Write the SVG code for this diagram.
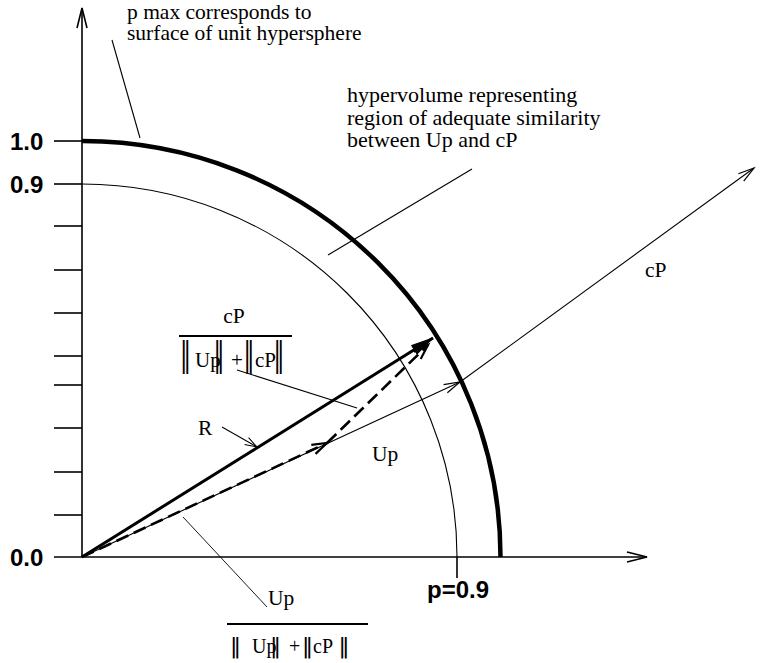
<svg xmlns="http://www.w3.org/2000/svg" width="760" height="663" viewBox="0 0 760 663">
<style>
  .t { font-family: 'Liberation Serif', 'Times New Roman', serif; font-size: 21.5px; fill: #000; }
  .b { font-family: 'Liberation Sans', Arial, sans-serif; font-size: 24px; font-weight: bold; fill: #000; }
  .bar { font-family: 'DejaVu Sans', 'Liberation Serif', serif; font-size: 22px; fill: #000; text-anchor: middle; }
  .ax { stroke: #000; stroke-width: 1.6; fill: none; }
  .thin { stroke: #000; stroke-width: 1.1; fill: none; }
  .thick { stroke: #000; stroke-width: 4.5; fill: none; }
  .dash { stroke: #000; stroke-width: 2.6; fill: none; stroke-dasharray: 13 6; }
</style>
<defs>
  <marker id="openL" markerUnits="userSpaceOnUse" markerWidth="24" markerHeight="14" viewBox="-21 -7 24 14" refX="0" refY="0" orient="auto" overflow="visible">
    <path d="M-20,-5 L0,0 L-20,5" fill="none" stroke="#000" stroke-width="1.6"/>
  </marker>
  <marker id="openM" markerUnits="userSpaceOnUse" markerWidth="20" markerHeight="12" viewBox="-18 -6 20 12" refX="0" refY="0" orient="auto" overflow="visible">
    <path d="M-16,-4.5 L0,0 L-16,4.5" fill="none" stroke="#000" stroke-width="1.2"/>
  </marker>
  <marker id="openS" markerUnits="userSpaceOnUse" markerWidth="16" markerHeight="10" viewBox="-14 -5 16 10" refX="0" refY="0" orient="auto" overflow="visible">
    <path d="M-12,-4 L0,0 L-12,4" fill="none" stroke="#000" stroke-width="1"/>
  </marker>
  <marker id="openD" markerUnits="userSpaceOnUse" markerWidth="20" markerHeight="12" viewBox="-18 -6 20 12" refX="0" refY="0" orient="auto" overflow="visible">
    <path d="M-15,-5 L0,0 L-15,5" fill="none" stroke="#000" stroke-width="2.2"/>
  </marker>
  <marker id="fill" markerUnits="userSpaceOnUse" markerWidth="26" markerHeight="14" viewBox="-24 -7 26 14" refX="0" refY="0" orient="auto" overflow="visible">
    <path d="M-22,-5 L0,0 L-22,5 Z" fill="#000" stroke="#000" stroke-width="1"/>
  </marker>
</defs>
<rect width="760" height="663" fill="#fff"/>

<g id="axes">
  <line class="ax" x1="82" y1="557" x2="82" y2="8" marker-end="url(#openL)"/>
  <line class="ax" x1="54" y1="557" x2="647" y2="557" marker-end="url(#openL)"/>
  <g class="ax">
    <line x1="54" y1="141" x2="82" y2="141"/>
    <line x1="54" y1="184" x2="82" y2="184"/>
    <line x1="54" y1="226" x2="82" y2="226"/>
    <line x1="54" y1="270" x2="82" y2="270"/>
    <line x1="54" y1="313" x2="82" y2="313"/>
    <line x1="54" y1="356" x2="82" y2="356"/>
    <line x1="54" y1="385" x2="82" y2="385"/>
    <line x1="54" y1="428" x2="82" y2="428"/>
    <line x1="54" y1="472" x2="82" y2="472"/>
    <line x1="54" y1="515" x2="82" y2="515"/>
    <line x1="457" y1="557" x2="457" y2="578"/>
  </g>
  <text class="b" x="10" y="149.5">1.0</text>
  <text class="b" x="10" y="192.5">0.9</text>
  <text class="b" x="10" y="566">0.0</text>
  <text class="b" x="427" y="598">p=0.9</text>
</g>

<g id="hypersphere">
  <path class="thick" d="M82,141 A418,416 0 0 1 500.5,557"/>
</g>
<g id="threshold-sphere">
  <path class="thin" d="M82,184 A375,373 0 0 1 457,557"/>
</g>

<g id="connectors">
  <!-- Up ray to surface -->
  <line class="thin" x1="82" y1="557" x2="460" y2="382" marker-end="url(#openM)"/>
  <!-- cP ray -->
  <line class="thin" x1="460" y1="382" x2="754" y2="168" marker-end="url(#openM)"/>
  <!-- R resultant -->
  <line x1="82" y1="557" x2="433" y2="338" stroke="#000" stroke-width="3" marker-end="url(#fill)"/>
  <!-- scaled Up (dashed) -->
  <line class="dash" x1="82" y1="557" x2="327" y2="443" marker-end="url(#openD)"/>
  <!-- scaled cP (dashed) -->
  <line class="dash" x1="327" y1="443" x2="428" y2="345" marker-end="url(#openD)"/>
  <!-- leaders -->
  <line class="thin" x1="112" y1="40" x2="140" y2="138"/>
  <line class="thin" x1="472" y1="169" x2="328" y2="255"/>
  <line class="thin" x1="237" y1="370" x2="357" y2="408"/>
  <line class="thin" x1="222" y1="427" x2="257" y2="447" marker-end="url(#openS)"/>
  <line x1="183" y1="517" x2="267" y2="607" stroke="#000" stroke-width="0.9"/>
</g>

<g id="label-pmax">
  <text class="t" x="127" y="19">p max corresponds to</text>
  <text class="t" x="127" y="39.5">surface of unit hypersphere</text>
</g>
<g id="label-hypervolume">
  <text class="t" x="347" y="102" style="font-size:22px">hypervolume representing</text>
  <text class="t" x="347" y="124.5" style="font-size:22px">region of adequate similarity</text>
  <text class="t" x="347" y="147" style="font-size:22px">between Up and cP</text>
</g>
<g id="label-cP">
  <text class="t" x="645" y="277">cP</text>
</g>
<g id="label-Up">
  <text class="t" x="372" y="461">Up</text>
</g>
<g id="label-R">
  <text class="t" x="198" y="435">R</text>
</g>

<g id="fraction-cP">
  <text class="t" x="234" y="323" text-anchor="middle">cP</text>
  <line x1="179" y1="336" x2="292" y2="336" stroke="#000" stroke-width="2"/>
  <text class="t" x="195" y="367" style="font-size:21px">Up</text>
  <text class="t" x="231" y="367" style="font-size:21px">+</text>
  <text class="t" x="255" y="367" style="font-size:21px">cP</text>
  <text class="bar" transform="translate(185.5,365.5) scale(1,1.5)">‖</text>
  <text class="bar" transform="translate(219,365.5) scale(1,1.5)">‖</text>
  <text class="bar" transform="translate(249,365.5) scale(1,1.5)">‖</text>
  <text class="bar" transform="translate(279,365.5) scale(1,1.5)">‖</text>
</g>

<g id="fraction-Up">
  <text class="t" x="268" y="605">Up</text>
  <line x1="227" y1="624" x2="368" y2="624" stroke="#000" stroke-width="2"/>
  <text class="t" x="252" y="653" style="font-size:20px">Up</text>
  <text class="t" x="289" y="653" style="font-size:20px">+</text>
  <text class="t" x="313" y="653" style="font-size:20px">cP</text>
  <text class="bar" x="235.5" y="653">‖</text>
  <text class="bar" x="275.5" y="653">‖</text>
  <text class="bar" x="307.5" y="653">‖</text>
  <text class="bar" x="344" y="653">‖</text>
</g>
</svg>
